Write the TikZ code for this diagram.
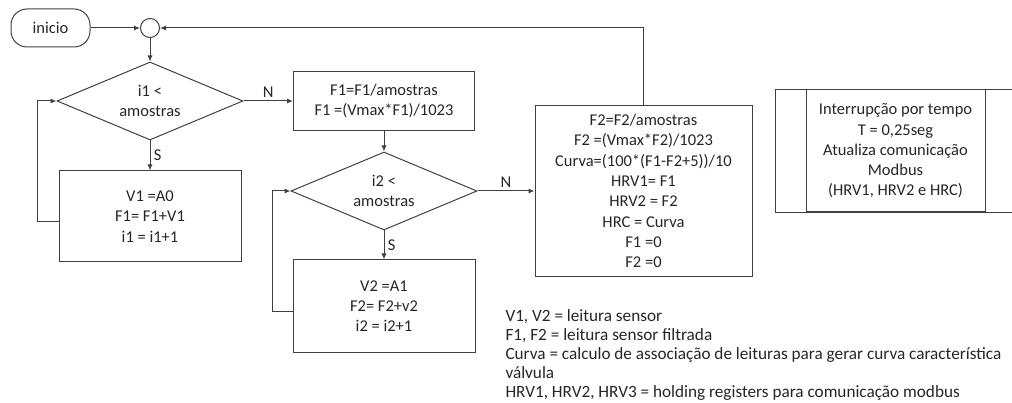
\documentclass[tikz,border=0pt]{standalone}
\usepackage{fontspec}
\setmainfont{Carlito}
\usetikzlibrary{shapes.geometric,arrows.meta,calc}

\begin{document}
\begin{tikzpicture}[
  x=1pt, y=-1pt,
  line width=1pt,
  every node/.style={font=\fontsize{16.5}{20.3}\selectfont, text=black!85, align=center},
  box/.style={draw=black!75, rectangle, inner sep=2pt},
  decision/.style={draw=black!75, diamond, aspect=2.4, inner sep=2pt, minimum width=186pt, minimum height=78pt},
  arr/.style={draw=black!75, -{Latex[length=6pt,width=5pt]}}
]
\clip (0,0) rectangle (1012,403);
\node[box, rounded corners=16pt, minimum width=79pt, minimum height=38pt] (inicio) at (50.5,28) {inicio};
\node[draw=black!75, circle, minimum size=19pt, inner sep=0pt] (junta) at (150,28) {};
\node[decision] (teste1) at (150,101) {i1 <\\amostras};
\node[box, minimum width=182pt, minimum height=91pt] (soma1) at (150,216.5) {V1 =A0\\F1= F1+V1\\i1 = i1+1};
\node[box, minimum width=181pt, minimum height=59pt] (media1) at (384,101) {F1=F1/amostras\\F1 =(Vmax*F1)/1023};
\node[decision] (teste2) at (384,191) {i2 <\\amostras};
\node[box, minimum width=182pt, minimum height=92pt] (soma2) at (384,306) {V2 =A1\\F2= F2+v2\\i2 = i2+1};
\node[box, minimum width=217pt, minimum height=171pt] (calculo) at (643.5,191) {F2=F2/amostras\\F2 =(Vmax*F2)/1023\\Curva=(100*(F1-F2+5))/10\\HRV1= F1\\HRV2 = F2\\HRC = Curva\\F1 =0\\F2 =0};
\node[box, minimum width=179pt, minimum height=122pt] (interrup) at (895.5,151) {Interrupção por tempo\\T = 0,25seg\\Atualiza comunicação\\Modbus\\(HRV1, HRV2 e HRC)};
\draw[draw=black!75] ($(interrup.north west)+(-30,0)$) rectangle ($(interrup.south east)+(30,0)$);
\node[anchor=north west, inner sep=0pt, align=left, font=\fontsize{17.2}{19}\selectfont] (legenda) at (505,309) {V1, V2 = leitura sensor\\F1, F2 = leitura sensor filtrada\\Curva = calculo de associação de leituras para gerar curva característica\\válvula\\HRV1, HRV2, HRV3 = holding registers para comunicação modbus};

\draw[arr] (inicio) -- (junta);
\draw[arr] (junta) -- (teste1);
\draw[arr] (teste1) -- node[above]{N} (media1);
\draw[arr] (teste1) -- node[right]{S} (soma1);
\draw[arr] ([yshift=-5pt]soma1.west) -- ++(-21,0) |- (teste1.west);
\draw[arr] (media1) -- (teste2);
\draw[arr] (teste2) -- node[above]{N} (calculo);
\draw[arr] (teste2) -- node[right]{S} (soma2);
\draw[arr] ([yshift=-6pt]soma2.west) -- ++(-20,0) |- (teste2.west);
\draw[arr] (calculo.north) |- (junta.east);
\end{tikzpicture}
\end{document}
